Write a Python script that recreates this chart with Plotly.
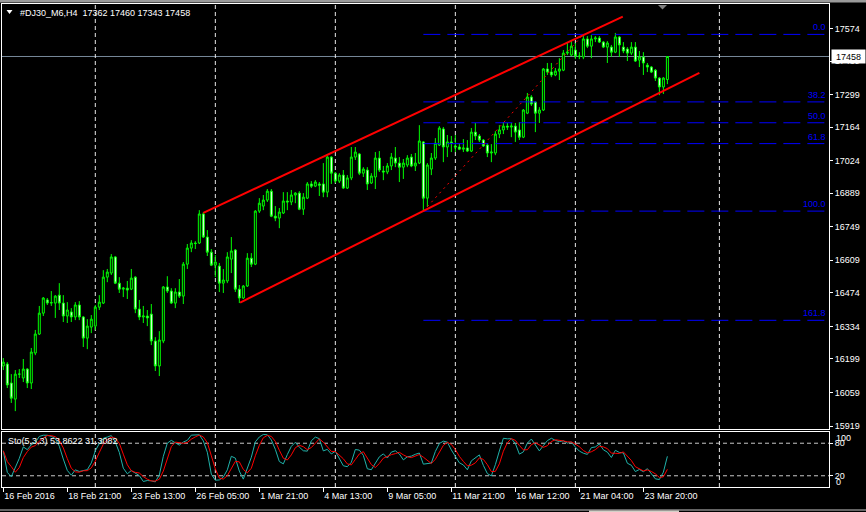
import plotly.graph_objects as go
import numpy as np

# ---------------- data ----------------
opens = [16169,16177,16098,16031,16135,16119,16156,16098,16223,16302,
         16389,16444,16431,16431,16464,16431,16377,16394,16373,16423,
         16373,16285,16331,16335,16414,16431,16539,16556,16623,16514,
         16489,16493,16489,16539,16406,16373,16377,16385,16273,16169,
         16273,16498,16481,16431,16477,16460,16593,16660,16681,16681,
         16802,16706,16643,16589,16585,16514,16523,16614,16652,16489,
         16452,16502,16618,16593,16814,16835,16860,16897,16793,16785,
         16806,16856,16852,16881,16889,16822,16868,16927,16918,16927,
         16927,16893,17039,16972,16939,16964,16910,16952,17039,17052,
         16972,16985,16931,16956,17035,16981,16977,17002,17035,17014,
         16997,17006,17039,17002,17014,17102,16868,16989,17035,17089,
         17156,17081,17102,17085,17081,17072,17077,17064,17143,17127,
         17110,17089,17056,17056,17135,17152,17168,17164,17168,17152,
         17122,17222,17289,17268,17222,17235,17406,17393,17381,17397,
         17401,17472,17464,17485,17460,17456,17531,17501,17531,17535,
         17518,17497,17497,17476,17539,17497,17489,17472,17497,17443,
         17456,17422,17414,17401,17368,17331,17362]
highs = [16202,16185,16135,16152,16156,16198,16160,16244,16319,16419,
         16456,16452,16481,16464,16514,16464,16435,16410,16435,16439,
         16377,16364,16381,16423,16464,16568,16573,16635,16627,16539,
         16498,16523,16573,16543,16444,16419,16402,16427,16289,16314,
         16502,16543,16493,16493,16531,16602,16677,16693,16689,16818,
         16810,16735,16656,16631,16598,16573,16643,16706,16656,16506,
         16506,16639,16639,16818,16868,16881,16906,16906,16835,16827,
         16893,16893,16902,16893,16897,16889,16935,16939,16943,16935,
         17014,17043,17043,16977,16972,16985,16964,17081,17081,17056,
         16997,16997,16972,17060,17064,17002,17014,17056,17081,17039,
         17031,17047,17052,17056,17172,17106,17014,17056,17118,17168,
         17164,17131,17127,17131,17097,17114,17110,17160,17181,17135,
         17114,17097,17093,17147,17172,17185,17181,17181,17181,17185,
         17239,17306,17297,17272,17247,17410,17431,17431,17410,17451,
         17485,17518,17526,17514,17476,17550,17543,17547,17543,17543,
         17522,17522,17506,17556,17543,17518,17497,17518,17518,17481,
         17476,17431,17418,17406,17372,17372,17460]
lows = [16152,16077,16015,15981,16119,16102,16077,16073,16214,16298,
        16377,16423,16419,16369,16402,16352,16348,16352,16360,16360,
        16248,16239,16306,16319,16402,16427,16518,16548,16510,16473,
        16456,16448,16485,16389,16360,16348,16335,16256,16148,16127,
        16264,16473,16427,16410,16452,16427,16573,16643,16656,16677,
        16702,16627,16585,16539,16477,16473,16514,16556,16477,16431,
        16448,16498,16581,16589,16806,16818,16852,16789,16772,16743,
        16802,16818,16839,16847,16818,16798,16864,16910,16914,16877,
        16872,16872,16927,16931,16931,16906,16906,16943,17027,16964,
        16956,16902,16927,16906,16977,16943,16968,16985,16997,16935,
        16948,16997,16997,16981,17010,16814,16831,16964,17027,17085,
        17018,17039,17060,17060,17068,17060,17060,17060,17110,17102,
        17081,17039,17018,17047,17118,17135,17152,17122,17102,17110,
        17118,17218,17252,17143,17181,17231,17381,17372,17376,17360,
        17397,17464,17460,17447,17447,17447,17493,17451,17518,17514,
        17493,17431,17456,17472,17456,17472,17439,17464,17435,17414,
        17381,17393,17389,17356,17297,17302,17343]
closes = [16185,16090,16035,16135,16135,16156,16098,16227,16302,16389,
          16452,16431,16433,16460,16431,16377,16402,16373,16423,16373,
          16285,16335,16364,16414,16435,16539,16560,16623,16514,16489,
          16493,16485,16535,16406,16373,16377,16369,16273,16169,16277,
          16498,16481,16431,16477,16460,16593,16660,16681,16679,16802,
          16706,16643,16589,16602,16514,16527,16623,16648,16489,16452,
          16502,16618,16593,16814,16847,16860,16897,16793,16785,16810,
          16856,16852,16881,16889,16822,16872,16927,16918,16935,16922,
          16893,17039,16972,16939,16964,16910,16952,17039,17060,16972,
          16989,16927,16960,17035,16985,16977,17002,17039,17014,16997,
          17014,17035,17002,17014,17106,16868,17006,17035,17097,17160,
          17081,17102,17097,17081,17072,17077,17064,17143,17127,17110,
          17085,17056,17060,17135,17152,17168,17164,17168,17143,17122,
          17235,17289,17260,17222,17235,17406,17393,17381,17397,17406,
          17472,17476,17501,17460,17458,17531,17501,17531,17535,17518,
          17497,17514,17476,17539,17506,17481,17472,17497,17439,17456,
          17431,17414,17393,17368,17331,17368,17458]
bars = list(range(len(closes)))

price_ticks = [15919,16059,16199,16334,16474,16609,16749,16889,17024,17164,17299,17439,17574]
time_tick_bars = [0,16,32,48,64,80,96,112,128,144,160]
time_tick_labels = ["16 Feb 2016","18 Feb 21:00","23 Feb 13:00","26 Feb 05:00","1 Mar 21:00",
                    "4 Mar 13:00","9 Mar 05:00","11 Mar 21:00","16 Mar 12:00","21 Mar 04:00","23 Mar 20:00"]
grid_bars = [23,53,83,113,143,179]

upper_channel_x = [50.0, 154.85]
upper_channel_y = [16807, 17624]
lower_channel_x = [59.2, 174.0]
lower_channel_y = [16433, 17390]

fib_anchor_x = [105, 145]
fib_anchor_y = [16814, 17550]
fib_levels = [0.0, 38.2, 50.0, 61.8, 100.0, 161.8]
fib_end_bar = 205.7

last_price = 17458
title_text = "#DJ30_M6,H4  17362 17460 17343 17458"
sto_text = "Sto(5,3,3) 53.8622 31.3082"
sto_levels = [20, 80]

# ---------------- stochastic (5,3,3) from the OHLC above ----------------
H = np.array(highs, float); L = np.array(lows, float); C = np.array(closes, float)
n = len(C)
num = np.zeros(n); den = np.zeros(n)
for i in range(n):
    a = max(0, i - 4)
    lo = L[a:i + 1].min(); hi = H[a:i + 1].max()
    num[i] = C[i] - lo; den[i] = hi - lo
K = np.zeros(n)
for i in range(n):
    a = max(0, i - 2)
    K[i] = num[a:i + 1].sum() / den[a:i + 1].sum() * 100
D = np.array([K[max(0, i - 2):i + 1].mean() for i in range(n)])

# ---------------- geometry helpers (decorations only) ----------------
W, Hh = 866, 512
ML, MR, MT, MB = 2, 37, 4, 25
PW = W - ML - MR
PH = Hh - MT - MB
def px(x):
    return (x - ML) / PW
def py(y):
    return (Hh - MB - y) / PH

FONT = "Liberation Sans"
WHITE = "#ffffff"
LIME = "#00ff00"
BLUE = "#0000ff"

fig = go.Figure()

fig.add_trace(go.Candlestick(
    x=bars, open=opens, high=highs, low=lows, close=closes,
    increasing=dict(line=dict(color=LIME, width=1), fillcolor="#000000"),
    decreasing=dict(line=dict(color=LIME, width=1), fillcolor="#ffffff"),
    whiskerwidth=0, xaxis="x", yaxis="y", hoverinfo="skip", showlegend=False))

# fibonacci levels
hi_f, lo_f = fib_anchor_y[1], fib_anchor_y[0]
annotations = []
for lv in fib_levels:
    p = hi_f - (hi_f - lo_f) * lv / 100.0
    fig.add_trace(go.Scatter(x=[fib_anchor_x[0], fib_end_bar], y=[p, p], mode="lines",
                             line=dict(color=BLUE, width=1, dash="17px,7px"),
                             xaxis="x", yaxis="y", hoverinfo="skip", showlegend=False))
    annotations.append(dict(x=px(827), xref="paper", y=p, yref="y", text=f"{lv:.1f}",
                            xanchor="right", yanchor="bottom", showarrow=False,
                            font=dict(family=FONT, size=9, color=BLUE), borderpad=0, yshift=1))

# fib baseline (dotted red)
fig.add_trace(go.Scatter(x=fib_anchor_x, y=fib_anchor_y, mode="lines",
                         line=dict(color="#ff0000", width=1, dash="2px,4px"),
                         xaxis="x", yaxis="y", hoverinfo="skip", showlegend=False))

# channel lines
for xs, ys in [(upper_channel_x, upper_channel_y), (lower_channel_x, lower_channel_y)]:
    fig.add_trace(go.Scatter(x=xs, y=ys, mode="lines", line=dict(color="#ff0000", width=2),
                             xaxis="x", yaxis="y", hoverinfo="skip", showlegend=False))

# stochastic
fig.add_trace(go.Scatter(x=bars, y=K, mode="lines", line=dict(color="#20b2aa", width=1),
                         xaxis="x2", yaxis="y2", hoverinfo="skip", showlegend=False))
fig.add_trace(go.Scatter(x=bars, y=D, mode="lines", line=dict(color="#ff0000", width=1),
                         xaxis="x2", yaxis="y2", hoverinfo="skip", showlegend=False))

shapes = []
shapes.append(dict(type="line", xref="paper", x0=0, x1=1, yref="y", y0=last_price, y1=last_price,
                   line=dict(color="#778899", width=1), layer="below"))
for gb in grid_bars:
    for yr in ["y domain", "y2 domain"]:
        shapes.append(dict(type="line", xref="x", x0=gb, x1=gb, yref=yr, y0=0, y1=1,
                           line=dict(color="#e8e8e8", width=1, dash="4px,3px"), layer="below"))
for lv in sto_levels:
    shapes.append(dict(type="line", xref="paper", x0=0, x1=1, yref="y2", y0=lv, y1=lv,
                       line=dict(color="#c8c8c8", width=1, dash="4px,3px"), layer="below"))
shapes.append(dict(type="rect", xref="paper", yref="paper", x0=px(0), x1=px(866), y0=py(2.5), y1=py(0),
                   fillcolor="#9a9a9a", line=dict(width=0)))
shapes.append(dict(type="path", xref="paper", yref="paper",
                   path=f"M {px(6.5)} {py(10)} L {px(12.5)} {py(10)} L {px(9.5)} {py(14)} Z",
                   fillcolor=WHITE, line=dict(width=0)))
shapes.append(dict(type="path", xref="paper", yref="paper",
                   path=f"M {px(658)} {py(5)} L {px(667)} {py(5)} L {px(662.5)} {py(9.5)} Z",
                   fillcolor="#808080", line=dict(width=0)))
shapes.append(dict(type="line", xref="paper", yref="paper", x0=px(0), x1=px(866), y0=py(510), y1=py(510),
                   line=dict(color="#c8c8c8", width=1)))
shapes.append(dict(type="rect", xref="paper", yref="paper", x0=px(589), x1=px(679), y0=py(512), y1=py(510.5),
                   fillcolor="#d4d0c8", line=dict(width=0)))

annotations += [
    dict(x=px(18), xref="paper", y=py(12.5), yref="paper", text=title_text, xanchor="left",
         yanchor="middle", showarrow=False, font=dict(family=FONT, size=9, color=WHITE)),
    dict(x=px(6), xref="paper", y=py(440.5), yref="paper", text=sto_text, xanchor="left",
         yanchor="middle", showarrow=False, font=dict(family=FONT, size=9, color=WHITE)),
    dict(x=px(831), xref="paper", y=last_price, yref="y", text=str(last_price), xanchor="left",
         yanchor="middle", showarrow=False, bgcolor=WHITE, width=31, height=11, borderpad=1,
         font=dict(family=FONT, size=9, color="#000000")),
    dict(x=px(834), xref="paper", y=100, yref="y2", text="100", xanchor="left", yanchor="middle",
         yshift=-6, showarrow=False, font=dict(family=FONT, size=9, color=WHITE)),
    dict(x=px(834), xref="paper", y=0, yref="y2", text="0", xanchor="left", yanchor="middle",
         yshift=5, showarrow=False, font=dict(family=FONT, size=9, color=WHITE)),
]

ax_common = dict(showgrid=False, zeroline=False, showline=True, mirror=True,
                 linecolor=WHITE, linewidth=1)
xr = [-0.325, 206.4]

fig.update_layout(
    width=W, height=Hh, margin=dict(l=ML, r=MR, t=MT, b=MB),
    paper_bgcolor="#000000", plot_bgcolor="#000000", showlegend=False,
    font=dict(family=FONT, size=9, color=WHITE),
    xaxis=dict(domain=[0, 1], range=xr, anchor="y", showticklabels=False, ticks="",
               rangeslider=dict(visible=False), **ax_common),
    xaxis2=dict(domain=[0, 1], range=xr, anchor="y2", matches="x", ticks="outside", ticklen=4,
                tickcolor=WHITE, tickvals=time_tick_bars, ticktext=time_tick_labels,
                ticklabelposition="outside right", tickfont=dict(family=FONT, size=9, color=WHITE),
                rangeslider=dict(visible=False), **ax_common),
    yaxis=dict(domain=[(Hh - MB - 429) / PH, 1], range=[15906.5, 17676.6], anchor="x", side="right",
               ticks="outside", ticklen=3, tickcolor=WHITE, tickvals=price_ticks,
               ticktext=[str(t) for t in price_ticks],
               tickfont=dict(family=FONT, size=9, color=WHITE), **ax_common),
    yaxis2=dict(domain=[0, (Hh - MB - 431.5) / PH], range=[-0.7, 101.6], anchor="x2", side="right",
                ticks="outside", ticklen=3, tickcolor=WHITE, tickvals=sto_levels,
                ticktext=[str(v) for v in sto_levels],
                tickfont=dict(family=FONT, size=9, color=WHITE), **ax_common),
    shapes=shapes, annotations=annotations,
)

fig.write_html("out.html", config={"displayModeBar": False},
               post_script="document.body.style.margin='0';document.body.style.background='#000';")
